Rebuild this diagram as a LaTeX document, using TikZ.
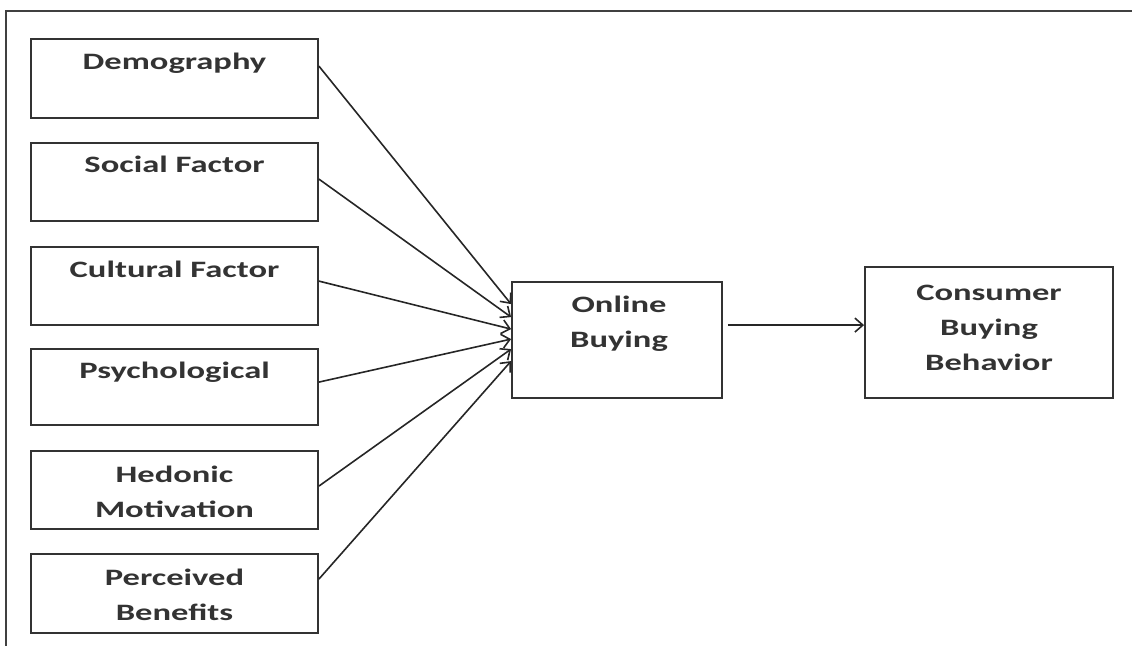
\documentclass[tikz,border=0pt]{standalone}
\usepackage{fontspec}
\newfontfamily\labfont{Carlito}[FakeStretch=1.47]
\usetikzlibrary{arrows.meta}
\begin{document}
\begin{tikzpicture}[x=0.5pt,y=-0.5pt,
  box/.style={draw=black!80, line width=0.9pt, inner sep=0pt},
  lab/.style={font=\labfont\bfseries\fontsize{11.75}{17.5}\selectfont, text=black!80, align=center, inner sep=0pt},
  arr/.style={draw=black!85, line width=0.8pt, -{Straight Barb[length=4pt,width=7pt]}}]
\useasboundingbox (0,0) rectangle (1132,646);
\draw[black!75, line width=1pt] (1132,11) -- (6,11) -- (6,646);
% left boxes
\node[box, minimum width=143.5pt, minimum height=39.5pt] (d) at (174.5,78.5) {};
\node[box, minimum width=143.5pt, minimum height=39pt] (s) at (174.5,182) {};
\node[box, minimum width=143.5pt, minimum height=39pt] (c) at (174.5,286) {};
\node[box, minimum width=143.5pt, minimum height=38pt] (p) at (174.5,387) {};
\node[box, minimum width=143.5pt, minimum height=39pt] (h) at (174.5,490) {};
\node[box, minimum width=143.5pt, minimum height=39.5pt] (b) at (174.5,593.5) {};
\node[lab, anchor=base] (dt) at (174.5,70) {Demography};
\node[lab, anchor=base] (st) at (174.5,173) {Social Factor};
\node[lab, anchor=base] (ct) at (174.5,278) {Cultural Factor};
\node[lab, anchor=base] (pt) at (174.5,379) {Psychological};
\node[lab] (ht) at (174.5,492) {Hedonic\\Motivation};
\node[lab] (bt) at (174.5,594.5) {Perceived\\Benefits};
% middle and right boxes
\node[box, minimum width=105pt, minimum height=58pt] (ob) at (617,340) {};
\node[lab] (obt) at (619,324) {Online\\Buying};
\node[box, minimum width=124pt, minimum height=65.5pt] (cb) at (989,332.5) {};
\node[lab] (cbt) at (989,328) {Consumer\\Buying\\Behavior};
% connectors
\draw[arr] ([yshift=-14pt]d.north east) -- ([yshift=-11.5pt]ob.north west);
\draw[arr] ([yshift=-18.5pt]s.north east) -- ([yshift=-18pt]ob.north west);
\draw[arr] ([yshift=-17.5pt]c.north east) -- ([yshift=-24pt]ob.north west);
\draw[arr] ([yshift=-17pt]p.north east) -- ([yshift=-29pt]ob.north west);
\draw[arr] ([yshift=-18pt]h.north east) -- ([yshift=-34pt]ob.north west);
\draw[arr] ([yshift=-13pt]b.north east) -- ([yshift=-40pt]ob.north west);
\coordinate (os) at ([yshift=-22pt]ob.north east);
\draw[arr, shorten <=2.5pt] (os) -- (os -| cb.west);
\end{tikzpicture}
\end{document}
